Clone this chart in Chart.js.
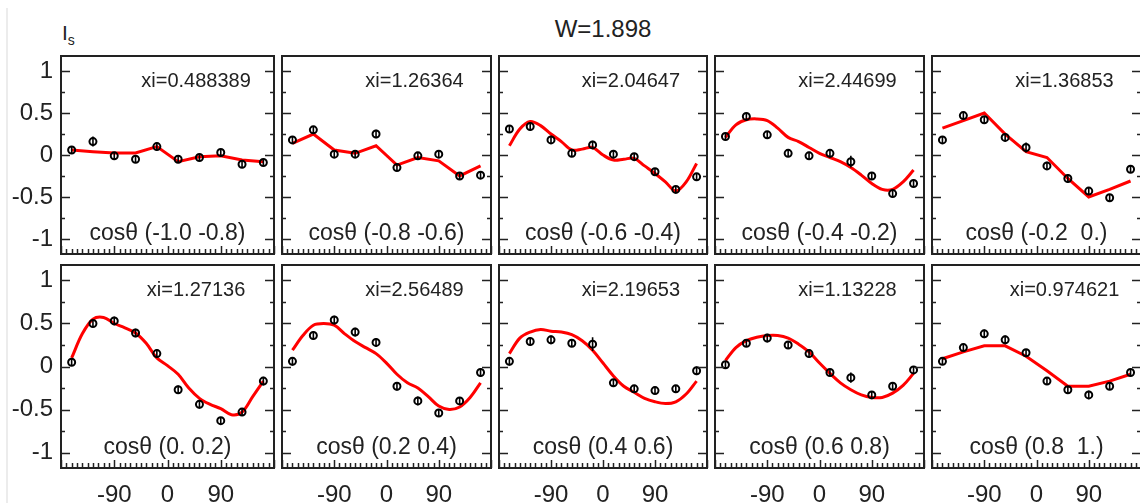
<!DOCTYPE html>
<html>
<head>
<meta charset="utf-8">
<script src="https://cdn.jsdelivr.net/npm/chart.js@4.4.1/dist/chart.umd.min.js"></script>
<style>
  html, body { margin: 0; padding: 0; background: #fff; }
  #stage { position: relative; width: 1140px; height: 503px; overflow: hidden; background: #fff;
           font-family: 'Liberation Sans', Arial, sans-serif; color: #222; }
  #stage canvas { position: absolute; }
  .txt { position: absolute; white-space: nowrap; line-height: 1; }
  #edge { position: absolute; left: 6px; top: 8px; width: 2px; height: 495px; background: #ececec; }
</style>
</head>
<body>
<div id="stage">
  <div id="edge"></div>
  <div class="txt" style="left:603px; top:17px; font-size:24px; transform:translateX(-50%);">W=1.898</div>
  <div class="txt" style="left:62px; top:22px; font-size:21px;">I<span style="font-size:14px; position:relative; top:5px;">s</span></div>
</div>
<script>
// phi bins (deg) where the points sit, and where the fit curve was read
const binCenters = [-162, -126, -90, -54, -18, 18, 54, 90, 126, 162];
const fitAnglesFine = [-162, -144, -126, -108, -90, -72, -54, -36, -18, 0, 18, 36, 54, 72, 90, 108, 126, 144, 162];
const xTickLabels = [-90, 0, 90];
const yTickLabels = [-1, -0.5, 0, 0.5, 1];

const cosLabels = ['cosθ (-1.0 -0.8)', 'cosθ (-0.8 -0.6)', 'cosθ (-0.6 -0.4)', 'cosθ (-0.4 -0.2)', 'cosθ (-0.2  0.)',
                   'cosθ (0. 0.2)', 'cosθ (0.2 0.4)', 'cosθ (0.4 0.6)', 'cosθ (0.6 0.8)', 'cosθ (0.8  1.)'];
const xiLabels = ['xi=0.488389', 'xi=1.26364', 'xi=2.04647', 'xi=2.44699', 'xi=1.36853',
                  'xi=1.27136', 'xi=2.56489', 'xi=2.19653', 'xi=1.13228', 'xi=0.974621'];

// measured Is per bin
const data_b1 = [0.06, 0.16, -0.01, -0.05, 0.10, -0.05, -0.03, 0.03, -0.11, -0.09];
const data_b2 = [0.18, 0.30, 0.01, 0.01, 0.25, -0.15, -0.01, 0.01, -0.25, -0.24];
const data_b3 = [0.31, 0.34, 0.18, 0.02, 0.12, 0.01, -0.02, -0.20, -0.41, -0.26];
const data_b4 = [0.22, 0.46, 0.24, 0.02, -0.01, 0.02, -0.08, -0.25, -0.46, -0.34];
const data_b5 = [0.18, 0.47, 0.42, 0.21, 0.09, -0.13, -0.28, -0.43, -0.51, -0.17];
const data_b6 = [0.05, 0.50, 0.53, 0.39, 0.15, -0.27, -0.44, -0.63, -0.53, -0.17];
const data_b7 = [0.06, 0.36, 0.54, 0.40, 0.28, -0.23, -0.40, -0.54, -0.40, -0.07];
const data_b8 = [0.06, 0.29, 0.31, 0.27, 0.26, -0.19, -0.26, -0.28, -0.26, -0.05];
const data_b9 = [0.02, 0.27, 0.33, 0.25, 0.15, -0.07, -0.13, -0.33, -0.23, -0.04];
const data_b10 = [0.06, 0.22, 0.38, 0.31, 0.16, -0.17, -0.27, -0.33, -0.23, -0.07];

// error bars (half length)
const err_b1 = [0.04, 0.06, 0.04, 0.04, 0.05, 0.04, 0.04, 0.04, 0.04, 0.04];
const err_b2 = [0.04, 0.04, 0.04, 0.04, 0.05, 0.04, 0.04, 0.04, 0.04, 0.04];
const err_b3 = [0.04, 0.05, 0.05, 0.04, 0.05, 0.05, 0.04, 0.04, 0.04, 0.04];
const err_b4 = [0.04, 0.04, 0.04, 0.04, 0.05, 0.05, 0.07, 0.04, 0.04, 0.04];
const err_b5 = [0.04, 0.04, 0.04, 0.05, 0.06, 0.05, 0.05, 0.04, 0.04, 0.04];
const err_b6 = [0.04, 0.04, 0.05, 0.05, 0.05, 0.05, 0.05, 0.04, 0.04, 0.05];
const err_b7 = [0.05, 0.05, 0.05, 0.05, 0.05, 0.05, 0.05, 0.04, 0.04, 0.05];
const err_b8 = [0.05, 0.05, 0.05, 0.04, 0.08, 0.04, 0.04, 0.04, 0.04, 0.05];
const err_b9 = [0.04, 0.04, 0.05, 0.04, 0.05, 0.04, 0.06, 0.04, 0.04, 0.04];
const err_b10 = [0.04, 0.04, 0.05, 0.05, 0.04, 0.04, 0.04, 0.05, 0.04, 0.04];

// fit curves (coarse ones on binCenters, smooth ones on fitAnglesFine)
const fit_b1 = [0.06, 0.04, 0.025, 0.025, 0.10, -0.08, -0.02, -0.01, -0.06, -0.08];
const fit_b2 = [0.14, 0.25, 0.06, 0.02, 0.11, -0.12, -0.03, -0.07, -0.25, -0.13];
const fit_b3 = [0.11, 0.31, 0.40, 0.35, 0.25, 0.16, 0.06, 0.07, 0.09, 0.00, -0.06, -0.05, -0.04, -0.13, -0.22, -0.32, -0.43, -0.32, -0.10];
const fit_b4 = [0.21, 0.36, 0.42, 0.43, 0.41, 0.32, 0.21, 0.16, 0.09, 0.02, -0.03, -0.08, -0.15, -0.24, -0.34, -0.41, -0.41, -0.32, -0.18];
const fit_b5 = [0.32, 0.41, 0.50, 0.25, 0.04, -0.03, -0.28, -0.50, -0.41, -0.31];
const fit_b6 = [0.10, 0.38, 0.55, 0.57, 0.50, 0.45, 0.39, 0.27, 0.10, 0.01, -0.09, -0.25, -0.37, -0.44, -0.49, -0.56, -0.53, -0.35, -0.17];
const fit_b7 = [0.19, 0.36, 0.48, 0.50, 0.48, 0.38, 0.29, 0.22, 0.15, 0.04, -0.09, -0.19, -0.25, -0.35, -0.46, -0.50, -0.47, -0.36, -0.19];
const fit_b8 = [0.15, 0.33, 0.40, 0.43, 0.41, 0.40, 0.37, 0.30, 0.19, 0.04, -0.11, -0.23, -0.30, -0.37, -0.41, -0.43, -0.41, -0.32, -0.17];
const fit_b9 = [0.07, 0.22, 0.30, 0.34, 0.36, 0.36, 0.33, 0.26, 0.17, 0.04, -0.08, -0.19, -0.27, -0.33, -0.36, -0.36, -0.31, -0.22, -0.08];
const fit_b10 = [0.09, 0.17, 0.24, 0.24, 0.12, -0.05, -0.23, -0.23, -0.17, -0.09];

const allData = [data_b1, data_b2, data_b3, data_b4, data_b5, data_b6, data_b7, data_b8, data_b9, data_b10];
const allErr = [err_b1, err_b2, err_b3, err_b4, err_b5, err_b6, err_b7, err_b8, err_b9, err_b10];
const allFit = [fit_b1, fit_b2, fit_b3, fit_b4, fit_b5, fit_b6, fit_b7, fit_b8, fit_b9, fit_b10];

// pad layout (frame edges, px)
const colEdges = [61, 278, 495, 711, 928, 1145];
const rowEdges = [[52, 258], [261, 468]];
const FONT = "'Liberation Sans', Arial, sans-serif";
const INK = '#222';

// frame, inside ticks, error bars and pad texts
const padDecor = {
    id: 'padDecor',
    afterDatasetsDraw(chart, args, opts) {
        const ctx = chart.ctx;
        const xs = chart.scales.x, ys = chart.scales.y;
        ctx.save();
        ctx.strokeStyle = '#000';
        ctx.lineWidth = 1.6;
        opts.values.forEach((v, k) => {
            const px = xs.getPixelForValue(binCenters[k]);
            ctx.beginPath();
            ctx.moveTo(px, ys.getPixelForValue(v + opts.errors[k]));
            ctx.lineTo(px, ys.getPixelForValue(v - opts.errors[k]));
            ctx.stroke();
        });
        ctx.restore();
    },
    afterDraw(chart, args, opts) {
        const ctx = chart.ctx;
        const a = chart.chartArea;
        const xs = chart.scales.x, ys = chart.scales.y;
        ctx.save();
        ctx.strokeStyle = INK;
        ctx.lineWidth = 1.5;

        // y ticks left + right, every 0.25
        for (let t = -1; t <= 1.001; t += 0.25) {
            const py = Math.round(ys.getPixelForValue(t)) + 0.5;
            const len = Math.abs(t * 2 - Math.round(t * 2)) < 1e-6 ? 9 : 4;
            ctx.beginPath();
            ctx.moveTo(a.left, py); ctx.lineTo(a.left + len, py);
            ctx.moveTo(a.right, py); ctx.lineTo(a.right - len, py);
            ctx.stroke();
        }
        // x ticks on bottom, every 9 deg
        for (let d = -180; d <= 180; d += 9) {
            const px = Math.round(xs.getPixelForValue(d)) + 0.5;
            const len = d % 90 === 0 ? 8 : 5;
            ctx.beginPath();
            ctx.moveTo(px, a.bottom); ctx.lineTo(px, a.bottom - len);
            ctx.stroke();
        }
        // frame
        ctx.lineWidth = 2;
        ctx.strokeRect(a.left, a.top, a.right - a.left, a.bottom - a.top);

        // texts
        ctx.fillStyle = INK;
        ctx.textBaseline = 'alphabetic';
        ctx.textAlign = 'center';
        ctx.font = '20px ' + FONT;
        ctx.fillText(opts.xi, a.left + 0.634 * (a.right - a.left), a.top + 30.5);
        ctx.font = '23px ' + FONT;
        ctx.fillText(opts.cos, (a.left + a.right) / 2, a.bottom - 14);
        ctx.restore();
    }
};

const stage = document.getElementById('stage');

for (let i = 0; i < 10; i++) {
    const c = i % 5, r = Math.floor(i / 5);
    const L = colEdges[c], R = colEdges[c + 1];
    const T = rowEdges[r][0], B = rowEdges[r][1];
    const cLeft = c === 0 ? 0 : L - 2;
    const cTop = T - 2;
    const cRight = R + 2;
    const cBottom = r === 1 ? 503 : B + 2;

    const canvas = document.createElement('canvas');
    canvas.width = cRight - cLeft;
    canvas.height = cBottom - cTop;
    canvas.style.left = cLeft + 'px';
    canvas.style.top = cTop + 'px';
    canvas.style.width = canvas.width + 'px';
    canvas.style.height = canvas.height + 'px';
    stage.appendChild(canvas);

    const fit = allFit[i];
    const fitX = fit.length === binCenters.length ? binCenters : fitAnglesFine;

    new Chart(canvas, {
        type: 'scatter',
        data: {
            datasets: [
                {
                    label: 'data',
                    data: allData[i].map((v, k) => ({ x: binCenters[k], y: v })),
                    pointRadius: 3.5,
                    pointBorderWidth: 2,
                    pointBorderColor: '#000',
                    pointBackgroundColor: 'rgba(0,0,0,0)',
                    showLine: false,
                    order: 0
                },
                {
                    label: 'fit',
                    type: 'line',
                    data: fit.map((v, k) => ({ x: fitX[k], y: v })),
                    borderColor: '#ff0000',
                    borderWidth: 3,
                    pointRadius: 0,
                    tension: fit.length === binCenters.length ? 0 : 0.35,
                    fill: false,
                    order: 1
                }
            ]
        },
        options: {
            responsive: false,
            maintainAspectRatio: false,
            animation: false,
            events: [],
            layout: { padding: { left: c === 0 ? 0 : 2, right: 2, top: 2, bottom: r === 1 ? 0 : 2 } },
            plugins: {
                legend: { display: false },
                tooltip: { enabled: false },
                padDecor: { values: allData[i], errors: allErr[i], xi: xiLabels[i], cos: cosLabels[i] }
            },
            scales: {
                x: {
                    type: 'linear',
                    min: -180, max: 180,
                    display: r === 1,
                    grid: { display: false, drawTicks: false },
                    border: { display: false },
                    ticks: {
                        autoSkip: false, maxRotation: 0, padding: 13,
                        color: INK, font: { size: 24, family: FONT },
                        callback: v => String(v)
                    },
                    afterBuildTicks: s => { s.ticks = xTickLabels.map(v => ({ value: v })); },
                    afterFit: s => {
                        if (r === 1) s.height = 35;
                        s.paddingLeft = 0; s.paddingRight = 0;
                    }
                },
                y: {
                    min: -1.18, max: 1.18,
                    display: c === 0,
                    grid: { display: false, drawTicks: false },
                    border: { display: false },
                    ticks: {
                        autoSkip: false, padding: 8,
                        color: INK, font: { size: 24, family: FONT },
                        callback: v => String(v)
                    },
                    afterBuildTicks: s => { s.ticks = yTickLabels.map(v => ({ value: v })); },
                    afterFit: s => {
                        if (c === 0) s.width = 61;
                        s.paddingTop = 0; s.paddingBottom = 0;
                    }
                }
            }
        },
        plugins: [padDecor]
    });
}
</script>
</body>
</html>
